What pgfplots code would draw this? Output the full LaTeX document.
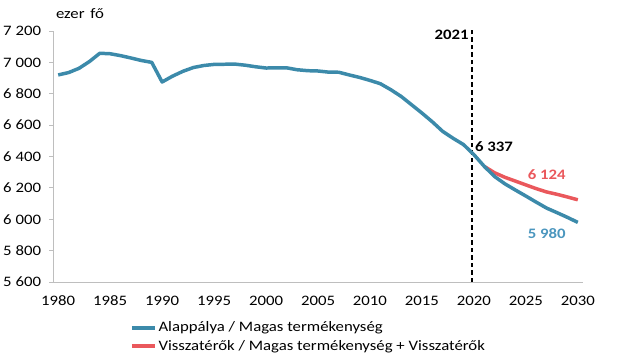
\documentclass[border=0pt]{standalone}
\usepackage{pgfplots}
\pgfplotsset{compat=1.18}
\usepackage{fontspec}
\setmainfont{Carlito}[FakeStretch=1.16]
\definecolor{cblue}{RGB}{60,138,170}
\definecolor{cred}{RGB}{234,88,92}
\definecolor{lblue}{RGB}{75,150,190}
\definecolor{axgray}{RGB}{190,190,190}
\newcommand{\fs}{\fontsize{14.5}{17.5}\selectfont}
\begin{document}
\fs
\begin{tikzpicture}[x=1bp,y=1bp]
\useasboundingbox (0,0) rectangle (618,357);
\begin{axis}[
  at={(53bp,75bp)}, anchor=south west, scale only axis,
  width=530bp, height=251bp,
  xmin=1979.5, xmax=2030.5, ymin=5600, ymax=7200,
  axis x line=bottom, axis y line=left,
  axis line style={draw=axgray, line width=1pt, -},
  xtick={1980,1985,...,2030},
  xticklabels={1980,1985,1990,1995,2000,2005,2010,2015,2020,2025,2030},
  ytick={5600,5800,...,7200},
  yticklabels={5 600,5 800,6 000,6 200,6 400,6 600,6 800,7 000,7 200},
  xtick style={draw=none},
  ytick style={draw=axgray, line width=0.8pt},
  tick align=outside, major tick length=4bp,
  ticklabel style={font=\fs},
  xticklabel style={yshift=-5bp},
  yticklabel style={xshift=-3bp},
  /pgf/number format/assume math mode=true,
  clip=false,
  legend style={at={(axis description cs:0.145,-0.15)}, anchor=north west,
    draw=none, fill=none, font=\fs, row sep=2bp, inner sep=0pt},
  legend cell align=left,
  legend image code/.code={\draw[#1, line width=3.5pt] (0bp,0bp) -- (23bp,0bp);},
]
\addlegendimage{cblue}
\addlegendentry{Alappálya / Magas termékenység}
\addlegendimage{cred}
\addlegendentry{Visszatérők / Magas termékenység + Visszatérők}

\draw[black, line width=1.4pt, dash pattern=on 4.5bp off 3bp] (axis cs:2019.8,5600) -- (axis cs:2019.8,7222);

\addplot[cred, line width=3.5pt, line join=round, forget plot] coordinates {
(2021,6337) (2022,6296) (2023,6267) (2024,6243) (2025,6219) (2026,6195)
(2027,6174) (2028,6159) (2029,6142) (2030,6124)};

\addplot[cblue, line width=3.5pt, line join=round, forget plot] coordinates {
(1980,6920) (1981,6935) (1982,6962) (1983,7005) (1984,7058) (1985,7055)
(1986,7043) (1987,7028) (1988,7012) (1989,7000) (1990,6875) (1991,6912)
(1992,6943) (1993,6967) (1994,6980) (1995,6987) (1996,6988) (1997,6989)
(1998,6982) (1999,6972) (2000,6964) (2001,6965) (2002,6965) (2003,6953)
(2004,6947) (2005,6945) (2006,6938) (2007,6937) (2008,6920) (2009,6904)
(2010,6885) (2011,6864) (2012,6826) (2013,6783) (2014,6730) (2015,6677)
(2016,6621) (2017,6560) (2018,6516) (2019,6476) (2020,6412) (2021,6337)
(2022,6272) (2023,6225) (2024,6186) (2025,6148) (2026,6109) (2027,6071)
(2028,6042) (2029,6012) (2030,5980)};

\node[anchor=east, inner sep=0pt, font=\fs\bfseries] at (axis cs:2019.5,7178) {2021};
\node[anchor=west, inner sep=0pt, font=\fs\bfseries] at (axis cs:2020.1,6461) {6 337};
\node[anchor=center, inner sep=0pt, text=cred, font=\fs\bfseries] at (axis cs:2027.0,6282) {6 124};
\node[anchor=center, inner sep=0pt, text=lblue, font=\fs\bfseries] at (axis cs:2027.0,5908) {5 980};
\node[anchor=center, inner sep=0pt, font=\fs] at (axis cs:1982.1,7312) {ezer\hspace{2bp} fő};
\end{axis}
\end{tikzpicture}
\end{document}
